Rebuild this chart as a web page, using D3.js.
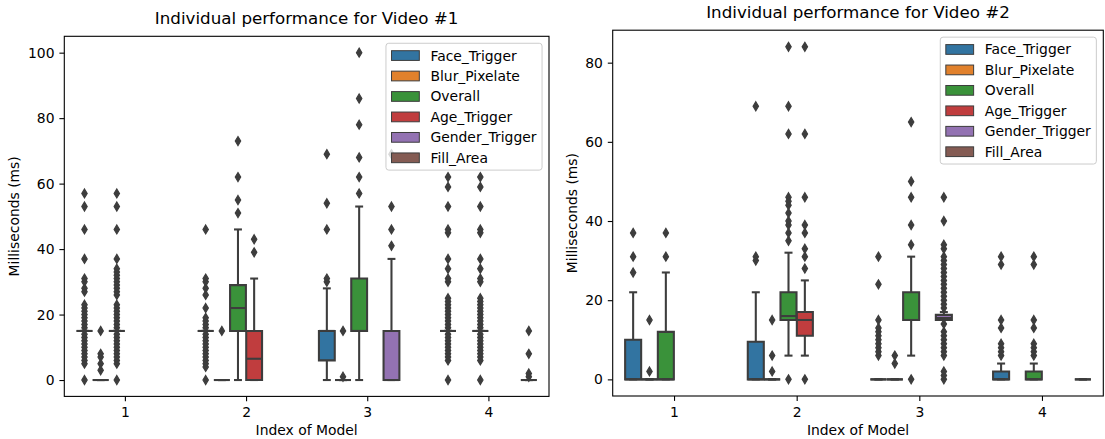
<!DOCTYPE html>
<html>
<head>
<meta charset="utf-8">
<script src="https://cdn.jsdelivr.net/npm/d3@7/dist/d3.min.js"></script>
<style>
  body { margin: 0; background: #fff; }
  text { font-family: "DejaVu Sans", sans-serif; fill: #000; }
</style>
</head>
<body>
<svg id="chart" width="1105" height="439"></svg>
<script>
const models = [1, 2, 3, 4];
const hues = ["Face_Trigger", "Blur_Pixelate", "Overall", "Age_Trigger", "Gender_Trigger", "Fill_Area"];
const hueColors = ["#3274a1", "#e1812c", "#3a923a", "#c03d3e", "#9372b2", "#845b53"];
const yTicks1 = [0, 20, 40, 60, 80, 100];
const yTicks2 = [0, 20, 40, 60, 80];

// [model, hue, lowWhisker, q1, median, q3, highWhisker, fliers]
const video1Boxes = [
  [1, "Face_Trigger", 15, 15, 15, 15, 15, [0, 5, 6, 7, 8, 9, 10, 11, 12, 13, 14, 16, 17, 18, 19, 20, 21, 22, 23, 27, 28, 30, 31, 37, 46, 53, 57]],
  [1, "Blur_Pixelate", 0, 0, 0, 0, 0, [3, 5, 7, 8, 15]],
  [1, "Overall", 15, 15, 15, 15, 15, [0, 5, 6, 7, 8, 9, 10, 11, 12, 13, 14, 16, 17, 18, 19, 20, 21, 22, 23, 26, 27, 28, 29, 30, 31, 32, 33, 34, 37, 46, 53, 57]],
  [2, "Face_Trigger", 15, 15, 15, 15, 15, [0, 4, 5, 6, 7, 8, 9, 10, 11, 12, 13, 14, 16, 17, 18, 19, 22, 26, 28, 30, 31, 46]],
  [2, "Blur_Pixelate", 0, 0, 0, 0, 0, [15]],
  [2, "Overall", 0, 15, 22, 29, 46, [51, 55, 62, 73]],
  [2, "Age_Trigger", 0, 0, 6.5, 15, 31, [39, 43]],
  [3, "Face_Trigger", 0, 6, 15, 15, 28, [30, 31, 46, 54, 69]],
  [3, "Blur_Pixelate", 0, 0, 0, 0, 0, [1, 15]],
  [3, "Overall", 0, 15, 15, 31, 53, [57, 62, 68, 78, 86, 100]],
  [3, "Gender_Trigger", 0, 0, 0, 15, 37, [41, 46, 53, 69]],
  [4, "Face_Trigger", 15, 15, 15, 15, 15, [0, 6, 7, 8, 9, 10, 11, 12, 13, 14, 16, 17, 18, 19, 20, 21, 22, 23, 24, 25, 30, 31, 34, 37, 45, 46, 53, 59, 62]],
  [4, "Overall", 15, 15, 15, 15, 15, [0, 6, 7, 8, 9, 10, 11, 12, 13, 14, 16, 17, 18, 19, 20, 21, 22, 23, 24, 25, 30, 31, 34, 37, 45, 46, 53, 59, 62]],
  [4, "Fill_Area", 0, 0, 0, 0, 0, [1, 2, 8, 15]]
];

const video2Boxes = [
  [1, "Face_Trigger", 0, 0, 0, 10, 22, [27, 31, 37]],
  [1, "Blur_Pixelate", 0, 0, 0, 0, 0, [2, 15]],
  [1, "Overall", 0, 0, 0, 12, 27, [31, 37]],
  [2, "Face_Trigger", 0, 0, 0, 9.5, 22, [30, 31, 69]],
  [2, "Blur_Pixelate", 0, 0, 0, 0, 0, [2, 6, 15]],
  [2, "Overall", 6, 15, 16, 22, 32, [0, 35, 37, 39, 40, 42, 44, 45, 46, 62, 69, 84]],
  [2, "Age_Trigger", 6, 11, 15, 17, 25, [0, 28, 31, 33, 37, 39, 46, 62, 84]],
  [3, "Face_Trigger", 0, 0, 0, 0, 0, [6, 7, 8, 9, 10, 11, 12, 13, 15, 24, 31]],
  [3, "Blur_Pixelate", 0, 0, 0, 0, 0, [4, 6]],
  [3, "Overall", 6, 15, 15, 22, 31, [0, 34, 39, 46, 50, 65]],
  [3, "Gender_Trigger", 15, 15, 15.5, 16.3, 17, [0, 1, 2, 6, 7, 8, 9, 10, 11, 12, 14, 18, 19, 20, 21, 22, 23, 24, 25, 26, 27, 28, 29, 30, 31, 33, 34, 40, 46]],
  [4, "Face_Trigger", 0, 0, 0, 2, 4, [6, 7, 8, 9, 13, 15, 29, 31]],
  [4, "Overall", 0, 0, 0, 2, 4, [6, 7, 8, 9, 13, 15, 29, 31]],
  [4, "Fill_Area", 0, 0, 0, 0, 0, []]
];

const svg = d3.select("#chart");
const gray = "#3d3d3d";
const fs = 13.9;
const color = d3.scaleOrdinal().domain(hues).range(hueColors);

function drawPanel(cfg) {
  const { left, right, top, bottom, yDomain, yTicks, boxes, title } = cfg;
  const g = svg.append("g");

  const x = d3.scalePoint().domain(models).range([left, right]).padding(0.5);
  const step = x.step();
  const hx = d3.scaleBand().domain(hues).range([-0.4 * step, 0.4 * step]);
  const y = d3.scaleLinear().domain(yDomain).range([bottom, top]);
  const bw = hx.bandwidth() * 0.98;

  boxes.forEach(([m, h, lo, q1, med, q3, hi, out]) => {
    const cx = x(m) + hx(h) + hx.bandwidth() / 2;
    const x0 = cx - bw / 2, x1 = cx + bw / 2;
    // box
    g.append("path")
      .attr("d", `M${x0},${y(q3)}H${x1}V${y(q1)}H${x0}Z`)
      .attr("fill", color(h)).attr("stroke", gray).attr("stroke-width", 2.08)
      .attr("stroke-linejoin", "miter");
    // whiskers
    g.append("line").attr("x1", cx).attr("x2", cx).attr("y1", y(q3)).attr("y2", y(hi))
      .attr("stroke", gray).attr("stroke-width", 2.08);
    g.append("line").attr("x1", cx).attr("x2", cx).attr("y1", y(q1)).attr("y2", y(lo))
      .attr("stroke", gray).attr("stroke-width", 2.08);
    // median
    g.append("line").attr("x1", x0).attr("x2", x1).attr("y1", y(med)).attr("y2", y(med))
      .attr("stroke", gray).attr("stroke-width", 2.08);
    // caps
    [lo, hi].forEach(v => {
      g.append("line").attr("x1", cx - bw / 4).attr("x2", cx + bw / 4).attr("y1", y(v)).attr("y2", y(v))
        .attr("stroke", gray).attr("stroke-width", 2.08);
    });
    // fliers
    g.selectAll(null).data(out).enter().append("path")
      .attr("d", "M0,-4.5L2.7,0L0,4.5L-2.7,0Z")
      .attr("transform", v => `translate(${cx},${y(v)})`)
      .attr("fill", gray).attr("stroke", gray).attr("stroke-width", 1.2)
      .attr("stroke-linejoin", "miter");
  });

  // frame
  g.append("rect").attr("x", left).attr("y", top).attr("width", right - left).attr("height", bottom - top)
    .attr("fill", "none").attr("stroke", "#000").attr("stroke-width", 1.1);

  // x axis
  const xa = g.append("g").attr("transform", `translate(0,${bottom})`)
    .call(d3.axisBottom(x).tickSize(4.9).tickPadding(4.9));
  xa.select(".domain").remove();
  xa.selectAll("line").attr("stroke", "#000").attr("stroke-width", 1.1);
  xa.selectAll("text").attr("font-size", fs).attr("font-family", "DejaVu Sans").attr("fill", "#000")
    .attr("dy", "0.78em");

  // y axis
  const ya = g.append("g").attr("transform", `translate(${left},0)`)
    .call(d3.axisLeft(y).tickValues(yTicks).tickSize(4.9).tickPadding(4.9));
  ya.select(".domain").remove();
  ya.selectAll("line").attr("stroke", "#000").attr("stroke-width", 1.1);
  ya.selectAll("text").attr("font-size", fs).attr("font-family", "DejaVu Sans").attr("fill", "#000");

  // title
  g.append("text").attr("x", (left + right) / 2).attr("y", top - 12.2)
    .attr("text-anchor", "middle").attr("font-size", 16.7).text(title);
  // axis labels
  g.append("text").attr("x", (left + right) / 2).attr("y", bottom + 39)
    .attr("text-anchor", "middle").attr("font-size", fs).text("Index of Model");
  g.append("text").attr("transform", `translate(${cfg.ylabelX},${(top + bottom) / 2}) rotate(-90)`)
    .attr("text-anchor", "middle").attr("font-size", fs).text("Milliseconds (ms)");

  // legend
  const lg = g.append("g");
  const frame = lg.append("rect");
  const labels = hues.map(h => lg.append("text").attr("font-size", fs).text(h));
  const maxW = d3.max(labels, t => t.node().getComputedTextLength());
  const pad = 0.4 * fs, rowH = 13.5, gap = 0.5 * fs;
  const lw = pad * 2 + 2 * fs + 0.8 * fs + maxW;
  const lh = pad * 2 + hues.length * rowH + (hues.length - 1) * gap;
  const lx = right - 0.5 * fs - lw, ly = top + 0.5 * fs;
  frame.attr("x", lx).attr("y", ly).attr("width", lw).attr("height", lh).attr("rx", 2.8)
    .attr("fill", "#fff").attr("fill-opacity", 0.8).attr("stroke", "#cccccc").attr("stroke-width", 1);
  hues.forEach((h, i) => {
    const cy = ly + pad + i * (rowH + gap) + rowH / 2;
    lg.append("rect").attr("x", lx + pad).attr("y", cy - 0.35 * fs).attr("width", 2 * fs).attr("height", 0.7 * fs)
      .attr("fill", color(h)).attr("stroke", gray).attr("stroke-width", 1);
    labels[i].attr("x", lx + pad + 2.8 * fs).attr("y", cy + 0.36 * fs);
  });
}

drawPanel({
  left: 64.3, right: 549, top: 36.3, bottom: 396.4,
  yDomain: [-5, 105], yTicks: yTicks1, boxes: video1Boxes,
  title: "Individual performance for Video #1", ylabelX: 19
});
drawPanel({
  left: 612.7, right: 1103.3, top: 30.2, bottom: 396,
  yDomain: [-4.2, 88.2], yTicks: yTicks2, boxes: video2Boxes,
  title: "Individual performance for Video #2", ylabelX: 577
});
</script>
</body>
</html>
